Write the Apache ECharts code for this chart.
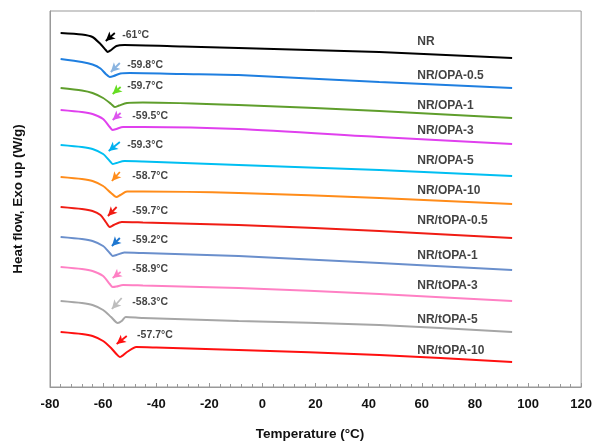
<!DOCTYPE html>
<html>
<head>
<meta charset="utf-8">
<script src="https://cdn.jsdelivr.net/npm/echarts@6/dist/echarts.min.js"></script>
<style>html,body{margin:0;padding:0;background:#fff}#c{width:595px;height:441px}</style>
</head>
<body>
<div id="c"></div>
<script>
// Sample names
const samples = ["NR","NR/OPA-0.5","NR/OPA-1","NR/OPA-3","NR/OPA-5","NR/OPA-10","NR/tOPA-0.5","NR/tOPA-1","NR/tOPA-3","NR/tOPA-5","NR/tOPA-10"];
const tgLabels = ["-61°C","-59.8°C","-59.7°C","-59.5°C","-59.3°C","-58.7°C","-59.7°C","-59.2°C","-58.9°C","-58.3°C","-57.7°C"];
const xTicks = [-80,-60,-40,-20,0,20,40,60,80,100,120];

// Temperature (°C) and heat flow (W/g, stacked offsets) per curve
const tNR      = [-76,-68,-64,-61,-59,-58.3,-57,-55,-52,-30,-9,44,94];
const hfNR     = [3.54,3.525,3.50,3.43,3.37,3.35,3.37,3.41,3.42,3.405,3.39,3.35,3.29];
const tOPA05   = [-76,-68,-64,-61,-59,-57.5,-56,-53.5,-50,-30,-9,44,94];
const hfOPA05  = [3.28,3.25,3.225,3.185,3.13,3.10,3.11,3.135,3.14,3.13,3.12,3.05,2.99];
const tOPA1    = [-76,-68,-64,-60,-57,-55.6,-54,-51,-45,-9,44,94];
const hfOPA1   = [2.99,2.965,2.94,2.89,2.83,2.80,2.815,2.84,2.845,2.82,2.76,2.69];
const tOPA3    = [-76,-68,-64,-60,-57.5,-56.4,-55,-52.5,-45,-9,44,94];
const hfOPA3   = [2.77,2.75,2.73,2.68,2.60,2.57,2.58,2.60,2.60,2.58,2.50,2.43];
const tOPA5    = [-76,-68,-64,-60,-57.5,-56.4,-55,-52,-45,-9,44,94];
const hfOPA5   = [2.42,2.40,2.38,2.33,2.26,2.23,2.24,2.26,2.255,2.22,2.17,2.11];
const tOPA10   = [-76,-68,-64,-60,-57,-55,-53.5,-51,-45,-9,44,94];
const hfOPA10  = [2.10,2.08,2.06,2.01,1.94,1.90,1.92,1.955,1.955,1.94,1.89,1.83];
const ttOPA05  = [-76,-68,-64,-61,-59,-57.5,-56,-53,-45,-9,44,94];
const hftOPA05 = [1.80,1.78,1.76,1.72,1.65,1.60,1.62,1.65,1.645,1.62,1.56,1.49];
const ttOPA1   = [-76,-68,-64,-60,-57.5,-56.4,-55,-52,-45,-9,44,94];
const hftOPA1  = [1.50,1.48,1.46,1.41,1.34,1.31,1.32,1.345,1.34,1.31,1.24,1.17];
const ttOPA3   = [-76,-68,-64,-60,-57.5,-56.4,-55,-52.5,-45,-9,44,94];
const hftOPA3  = [1.20,1.18,1.16,1.11,1.03,1.00,1.005,1.02,1.015,0.99,0.93,0.86];
const ttOPA5   = [-76,-68,-64,-60,-57,-54.5,-53,-51.5,-45,-9,44,94];
const hftOPA5  = [0.86,0.84,0.82,0.77,0.70,0.64,0.66,0.70,0.69,0.66,0.62,0.55];
const ttOPA10  = [-76,-68,-64,-60,-57,-55,-53.7,-51,-47.5,-40,-9,44,94];
const hftOPA10 = [0.55,0.53,0.51,0.46,0.39,0.33,0.30,0.35,0.40,0.395,0.37,0.32,0.25];

// Tg arrow start/end (T, HF) and label anchor (T, HF)
const arrowFromT = [-55.6,-53.7,-53.4,-53.4,-53.7,-53.7,-54.9,-53.7,-53.4,-53.0,-51.1];
const arrowFromH = [3.54,3.24,3.00,2.74,2.45,2.15,1.80,1.49,1.15,0.89,0.51];
const arrowToT   = [-59.0,-57.1,-56.4,-56.4,-57.9,-56.7,-58.2,-56.7,-56.4,-56.7,-54.9];
const arrowToH   = [3.46,3.15,2.93,2.67,2.36,2.06,1.71,1.41,1.09,0.78,0.43];
const tgLabelT   = [-53.0,-51.1,-51.1,-49.2,-51.1,-49.2,-49.2,-49.2,-49.2,-49.2,-47.4];
const tgLabelH   = [3.52,3.22,3.01,2.71,2.42,2.11,1.76,1.47,1.18,0.85,0.52];
// Sample name label anchors
const nameT = [58.1,58.1,58.1,58.1,58.1,58.1,58.1,58.1,58.1,58.1,58.1];
const nameH = [3.45,3.11,2.81,2.56,2.26,1.96,1.66,1.31,1.01,0.67,0.36];

const curvesT  = [tNR,tOPA05,tOPA1,tOPA3,tOPA5,tOPA10,ttOPA05,ttOPA1,ttOPA3,ttOPA5,ttOPA10];
const curvesHF = [hfNR,hfOPA05,hfOPA1,hfOPA3,hfOPA5,hfOPA10,hftOPA05,hftOPA1,hftOPA3,hftOPA5,hftOPA10];

const lineColors  = ["#000000","#1f7fe0","#5f9e2c","#e040ee","#00bff2","#ff8c1a","#f01c14","#6a8fcc","#ff80c4","#a6a6a6","#ff1010"];
const arrowColors = ["#000000","#8ab4e0","#66dd22","#dd55ee","#00b0f0","#ff8c1a","#f01c14","#1f77d0","#ff80c4","#bdbdbd","#ff1010"];

const FONT = "Liberation Sans, Arial, sans-serif";
const series = [];
samples.forEach((s, i) => {
  series.push({
    name: s, type: 'line', smooth: 0.25, symbol: 'none',
    data: curvesT[i].map((t, k) => [t, curvesHF[i][k]]),
    lineStyle: {color: lineColors[i], width: 2},
    z: 2,
    markLine: {
      silent: true, symbol: ['none', 'arrow'], symbolSize: [7, 9],
      label: {show: false},
      lineStyle: {color: arrowColors[i], width: 1.8, type: 'solid'},
      data: [[{coord: [arrowFromT[i], arrowFromH[i]]}, {coord: [arrowToT[i], arrowToH[i]]}]]
    }
  });
});
series.push({
  type: 'scatter', symbolSize: 1, itemStyle: {color: 'transparent'}, silent: true,
  data: tgLabels.map((l, i) => [tgLabelT[i], tgLabelH[i], l]),
  label: {show: true, position: 'right', distance: 0, formatter: p => p.data[2],
          color: '#111', fontFamily: FONT, fontWeight: 'bold', fontSize: 10.5}
});
series.push({
  type: 'scatter', symbolSize: 1, itemStyle: {color: 'transparent'}, silent: true,
  data: samples.map((l, i) => [nameT[i], nameH[i], l]),
  label: {show: true, position: 'right', distance: 0, formatter: p => p.data[2],
          color: '#111', fontFamily: FONT, fontWeight: 'bold', fontSize: 12}
});

const chart = echarts.init(document.getElementById('c'), null, {renderer: 'canvas'});
chart.setOption({
  animation: false,
  backgroundColor: '#fff',
  grid: {left: 50, right: 12, top: 11, bottom: 54, show: true, borderColor: '#999', borderWidth: 1},
  xAxis: {
    type: 'value', min: xTicks[0], max: xTicks[xTicks.length - 1], interval: 20,
    axisLine: {onZero: false, lineStyle: {color: '#999'}},
    axisTick: {inside: true, length: 4, lineStyle: {color: '#999'}},
    minorTick: {show: true, splitNumber: 5, length: 3, lineStyle: {color: '#999'}},
    splitLine: {show: false},
    axisLabel: {color: '#111', fontFamily: FONT, fontWeight: 'bold', fontSize: 13, margin: 11}
  },
  yAxis: {
    type: 'value', min: 0, max: 3.76,
    name: 'Heat flow, Exo up (W/g)', nameLocation: 'middle', nameGap: 25,
    nameTextStyle: {color: '#111', fontFamily: FONT, fontWeight: 'bold', fontSize: 13.5},
    axisLine: {show: true, onZero: false, lineStyle: {color: '#999'}},
    axisTick: {show: false}, axisLabel: {show: false}, splitLine: {show: false}
  },
  graphic: [{
    type: 'text', x: 310, y: 434,
    style: {text: 'Temperature (°C)', fill: '#111', font: 'bold 13.5px ' + FONT, textAlign: 'center', textVerticalAlign: 'middle'}
  }],
  series: series
});
</script>
</body>
</html>
